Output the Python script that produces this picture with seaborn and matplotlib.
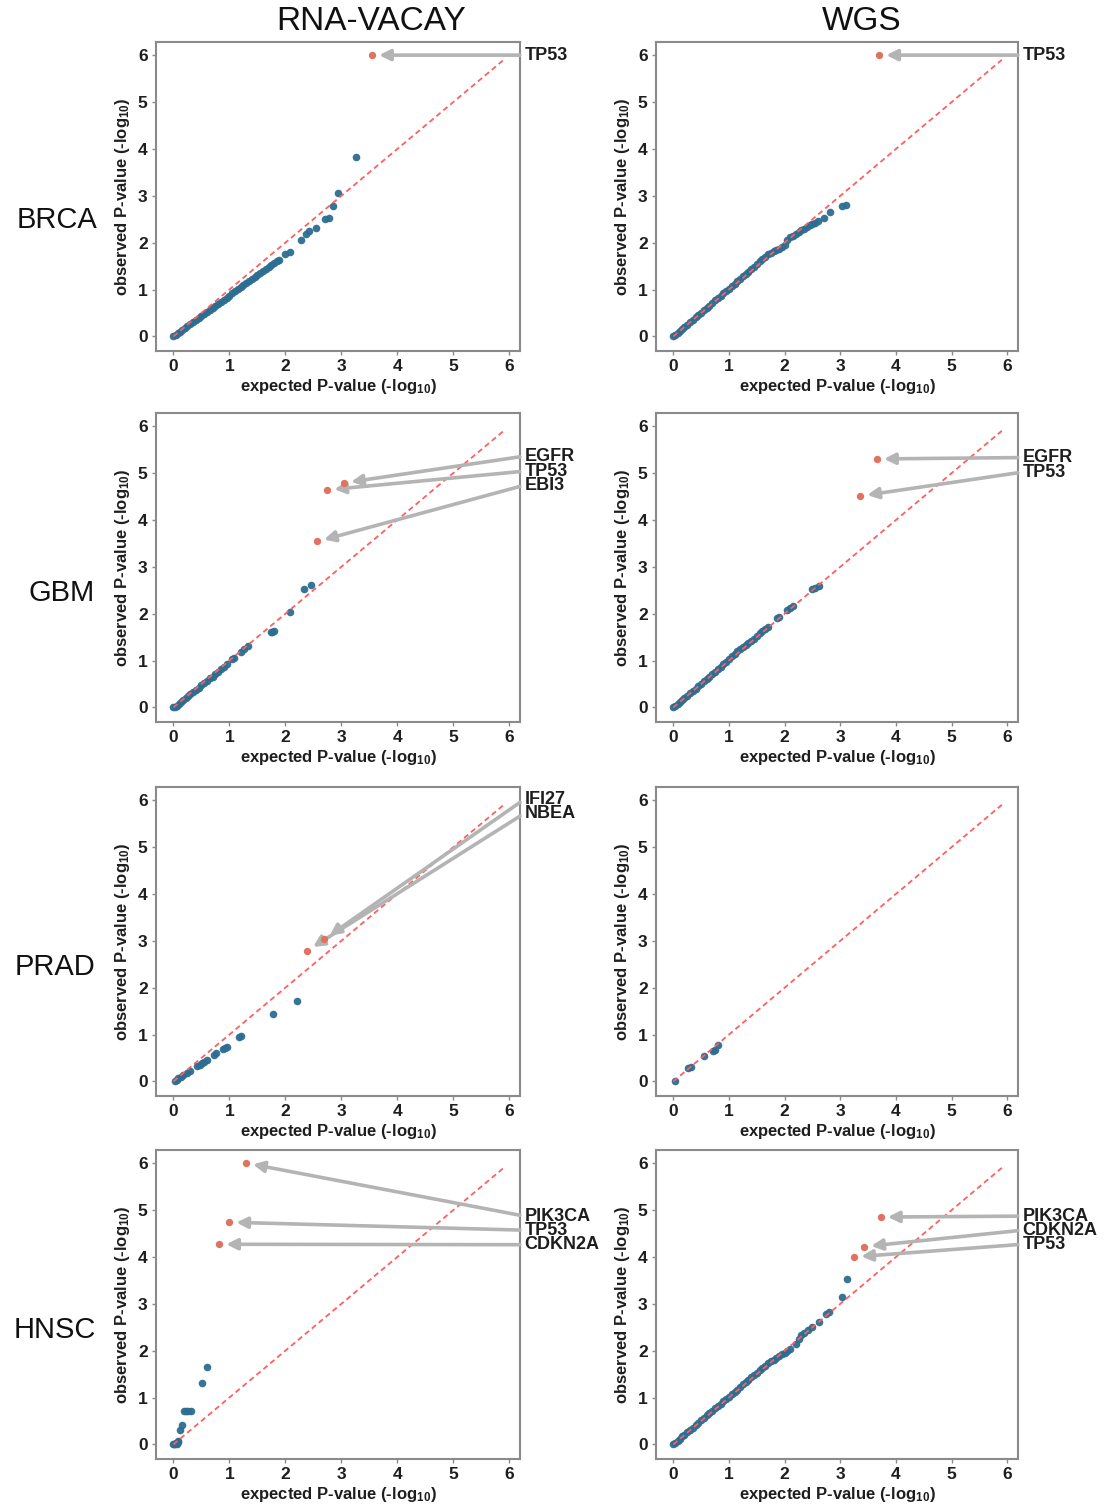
import numpy as np
import pandas as pd
import matplotlib
matplotlib.use("Agg")
import matplotlib.pyplot as plt
import seaborn as sns

# ---------------- data ----------------
COLUMNS = ["RNA-VACAY", "WGS"]
ROWS = ["BRCA", "GBM", "PRAD", "HNSC"]

# BRCA / RNA-VACAY
BRCA_RNA_EXP = [0.00, 0.04, 0.08, 0.12, 0.16, 0.20, 0.25, 0.30, 0.35, 0.40, 0.45, 0.50, 0.55, 0.60, 0.65,
                0.70, 0.75, 0.80, 0.85, 0.90, 0.95, 1.00, 1.05, 1.10, 1.15, 1.20, 1.25, 1.30, 1.35, 1.40,
                1.45, 1.50, 1.55, 1.60, 1.65, 1.70, 1.75, 1.80, 1.85, 1.88,
                1.99, 2.08, 2.28, 2.37, 2.42, 2.55, 2.70, 2.78, 2.85, 2.94, 3.26]
BRCA_RNA_OBS = [0.00, 0.03, 0.07, 0.10, 0.14, 0.17, 0.22, 0.26, 0.31, 0.35, 0.39, 0.44, 0.48, 0.52, 0.57,
                0.61, 0.65, 0.70, 0.74, 0.78, 0.83, 0.87, 0.92, 0.96, 1.01, 1.05, 1.09, 1.13, 1.18, 1.22,
                1.27, 1.31, 1.35, 1.40, 1.44, 1.48, 1.53, 1.57, 1.61, 1.64,
                1.76, 1.81, 2.06, 2.18, 2.24, 2.32, 2.51, 2.52, 2.78, 3.07, 3.82]
BRCA_RNA_GENES = ["TP53"]
BRCA_RNA_GENE_EXP = [3.55]
BRCA_RNA_GENE_OBS = [6.00]

# BRCA / WGS
BRCA_WGS_EXP = [0.00, 0.04, 0.08, 0.12, 0.16, 0.20, 0.25, 0.30, 0.35, 0.40, 0.45, 0.50, 0.55, 0.60, 0.65,
                0.70, 0.75, 0.80, 0.85, 0.90, 0.95, 1.00, 1.05, 1.10, 1.15, 1.20, 1.25, 1.30, 1.35, 1.40,
                1.45, 1.50, 1.55, 1.60, 1.65, 1.70, 1.75, 1.80, 1.85, 1.90, 1.95, 2.00, 2.05, 2.10, 2.15,
                2.20, 2.25, 2.30, 2.35, 2.40, 2.45, 2.50, 2.55, 2.60,
                2.70, 2.81, 3.03, 3.10]
BRCA_WGS_OBS = [0.00, 0.04, 0.08, 0.12, 0.16, 0.20, 0.25, 0.30, 0.35, 0.41, 0.46, 0.51, 0.56, 0.61, 0.66,
                0.71, 0.77, 0.82, 0.87, 0.92, 0.97, 1.02, 1.07, 1.12, 1.18, 1.23, 1.28, 1.33, 1.38, 1.44,
                1.49, 1.55, 1.60, 1.65, 1.70, 1.75, 1.79, 1.83, 1.85, 1.87, 1.91, 1.95, 2.05, 2.12, 2.15,
                2.18, 2.22, 2.26, 2.30, 2.34, 2.37, 2.40, 2.43, 2.46,
                2.53, 2.66, 2.79, 2.80]
BRCA_WGS_GENES = ["TP53"]
BRCA_WGS_GENE_EXP = [3.70]
BRCA_WGS_GENE_OBS = [6.00]

# GBM / RNA-VACAY
GBM_RNA_EXP = [0.00, 0.03, 0.06, 0.10, 0.14, 0.18, 0.22, 0.26, 0.30, 0.35, 0.40, 0.45, 0.50, 0.55, 0.60,
               0.65, 0.70, 0.75, 0.80, 0.85, 0.90,
               0.96, 1.05, 1.09, 1.21, 1.26, 1.33, 1.74, 1.77, 1.80, 2.09, 2.34, 2.45]
GBM_RNA_OBS = [0.00, 0.02, 0.04, 0.08, 0.12, 0.16, 0.20, 0.24, 0.28, 0.33, 0.38, 0.42, 0.47, 0.52, 0.57,
               0.62, 0.66, 0.71, 0.76, 0.81, 0.86,
               0.92, 1.03, 1.06, 1.18, 1.24, 1.31, 1.62, 1.62, 1.63, 2.04, 2.52, 2.62]
GBM_RNA_GENES = ["EGFR", "TP53", "EBI3"]
GBM_RNA_GENE_EXP = [3.05, 2.75, 2.57]
GBM_RNA_GENE_OBS = [4.79, 4.64, 3.54]

# GBM / WGS
GBM_WGS_EXP = [0.00, 0.04, 0.08, 0.12, 0.16, 0.20, 0.25, 0.30, 0.35, 0.40, 0.45, 0.50, 0.55, 0.60, 0.65,
               0.70, 0.75, 0.80, 0.85, 0.90, 0.95, 1.00, 1.05, 1.10, 1.15, 1.20, 1.25, 1.30, 1.35, 1.40,
               1.45, 1.50, 1.55, 1.60, 1.65, 1.70,
               1.86, 1.90, 2.04, 2.10, 2.15, 2.49, 2.55, 2.61]
GBM_WGS_OBS = [0.00, 0.04, 0.08, 0.12, 0.16, 0.20, 0.25, 0.30, 0.35, 0.40, 0.45, 0.51, 0.56, 0.61, 0.66,
               0.71, 0.76, 0.81, 0.87, 0.92, 0.97, 1.03, 1.09, 1.15, 1.20, 1.25, 1.29, 1.33, 1.38, 1.42,
               1.47, 1.53, 1.58, 1.63, 1.68, 1.72,
               1.91, 1.93, 2.07, 2.12, 2.16, 2.52, 2.55, 2.58]
GBM_WGS_GENES = ["EGFR", "TP53"]
GBM_WGS_GENE_EXP = [3.66, 3.36]
GBM_WGS_GENE_OBS = [5.30, 4.51]

# PRAD / RNA-VACAY
PRAD_RNA_EXP = [0.03, 0.06, 0.09, 0.13, 0.18, 0.24, 0.30, 0.42, 0.47, 0.51, 0.55, 0.60, 0.73, 0.77, 0.88,
                0.92, 0.96, 1.17, 1.20, 1.78, 2.21]
PRAD_RNA_OBS = [0.01, 0.04, 0.08, 0.10, 0.13, 0.18, 0.22, 0.34, 0.36, 0.39, 0.42, 0.46, 0.57, 0.60, 0.70,
                0.72, 0.74, 0.94, 0.96, 1.44, 1.72]
PRAD_RNA_GENES = ["IFI27", "NBEA"]
PRAD_RNA_GENE_EXP = [2.69, 2.39]
PRAD_RNA_GENE_OBS = [3.03, 2.79]

# PRAD / WGS
PRAD_WGS_EXP = [0.04, 0.26, 0.31, 0.55, 0.71, 0.75, 0.81]
PRAD_WGS_OBS = [0.02, 0.29, 0.31, 0.54, 0.66, 0.68, 0.77]
PRAD_WGS_GENES = []
PRAD_WGS_GENE_EXP = []
PRAD_WGS_GENE_OBS = []

# HNSC / RNA-VACAY
HNSC_RNA_EXP = [0.00, 0.02, 0.03, 0.05, 0.06, 0.08, 0.09, 0.12, 0.15, 0.19, 0.23, 0.27, 0.31, 0.51, 0.60]
HNSC_RNA_OBS = [0.00, 0.00, 0.01, 0.03, 0.02, 0.07, 0.05, 0.31, 0.42, 0.71, 0.71, 0.71, 0.71, 1.32, 1.66]
HNSC_RNA_GENES = ["PIK3CA", "TP53", "CDKN2A"]
HNSC_RNA_GENE_EXP = [1.30, 1.00, 0.82]
HNSC_RNA_GENE_OBS = [6.00, 4.74, 4.27]

# HNSC / WGS
HNSC_WGS_EXP = [0.00, 0.04, 0.08, 0.12, 0.16, 0.20, 0.25, 0.30, 0.35, 0.40, 0.45, 0.50, 0.55, 0.60, 0.65,
                0.70, 0.75, 0.80, 0.85, 0.90, 0.95, 1.00, 1.05, 1.10, 1.15, 1.20, 1.25, 1.30, 1.35, 1.40,
                1.45, 1.50, 1.55, 1.60, 1.65, 1.70, 1.75, 1.80, 1.85, 1.90, 1.95, 2.00, 2.05, 2.10,
                2.20, 2.25, 2.30, 2.35, 2.42, 2.50, 2.62, 2.75, 2.80, 3.03, 3.12]
HNSC_WGS_OBS = [0.00, 0.04, 0.08, 0.12, 0.17, 0.21, 0.26, 0.31, 0.36, 0.41, 0.46, 0.52, 0.57, 0.62, 0.67,
                0.72, 0.77, 0.82, 0.87, 0.92, 0.97, 1.02, 1.07, 1.12, 1.17, 1.23, 1.28, 1.33, 1.38, 1.43,
                1.48, 1.53, 1.58, 1.63, 1.68, 1.73, 1.77, 1.80, 1.84, 1.88, 1.93, 1.96, 1.99, 2.04,
                2.15, 2.25, 2.33, 2.38, 2.44, 2.50, 2.62, 2.78, 2.82, 3.14, 3.52]
HNSC_WGS_GENES = ["PIK3CA", "CDKN2A", "TP53"]
HNSC_WGS_GENE_EXP = [3.73, 3.43, 3.25]
HNSC_WGS_GENE_OBS = [4.85, 4.22, 4.00]

DIAG = [0.0, 5.9]
TICKS = [0, 1, 2, 3, 4, 5, 6]

PANELS = {
    ("BRCA", "RNA-VACAY"): (BRCA_RNA_EXP, BRCA_RNA_OBS, BRCA_RNA_GENES, BRCA_RNA_GENE_EXP, BRCA_RNA_GENE_OBS),
    ("BRCA", "WGS"): (BRCA_WGS_EXP, BRCA_WGS_OBS, BRCA_WGS_GENES, BRCA_WGS_GENE_EXP, BRCA_WGS_GENE_OBS),
    ("GBM", "RNA-VACAY"): (GBM_RNA_EXP, GBM_RNA_OBS, GBM_RNA_GENES, GBM_RNA_GENE_EXP, GBM_RNA_GENE_OBS),
    ("GBM", "WGS"): (GBM_WGS_EXP, GBM_WGS_OBS, GBM_WGS_GENES, GBM_WGS_GENE_EXP, GBM_WGS_GENE_OBS),
    ("PRAD", "RNA-VACAY"): (PRAD_RNA_EXP, PRAD_RNA_OBS, PRAD_RNA_GENES, PRAD_RNA_GENE_EXP, PRAD_RNA_GENE_OBS),
    ("PRAD", "WGS"): (PRAD_WGS_EXP, PRAD_WGS_OBS, PRAD_WGS_GENES, PRAD_WGS_GENE_EXP, PRAD_WGS_GENE_OBS),
    ("HNSC", "RNA-VACAY"): (HNSC_RNA_EXP, HNSC_RNA_OBS, HNSC_RNA_GENES, HNSC_RNA_GENE_EXP, HNSC_RNA_GENE_OBS),
    ("HNSC", "WGS"): (HNSC_WGS_EXP, HNSC_WGS_OBS, HNSC_WGS_GENES, HNSC_WGS_GENE_EXP, HNSC_WGS_GENE_OBS),
}

# ---------------- layout (label placement in data units of each panel) ----------------
LABEL_Y = {
    ("BRCA", "RNA-VACAY"): [6.00],
    ("BRCA", "WGS"): [6.00],
    ("GBM", "RNA-VACAY"): [5.36, 5.04, 4.74],
    ("GBM", "WGS"): [5.33, 5.02],
    ("PRAD", "RNA-VACAY"): [6.02, 5.72],
    ("PRAD", "WGS"): [],
    ("HNSC", "RNA-VACAY"): [4.87, 4.57, 4.26],
    ("HNSC", "WGS"): [4.87, 4.57, 4.27],
}

W, H = 1108, 1510
ROW_TOP = [42, 413, 787, 1150]
ROW_H = 309
COL_LEFT = [156, 656]
COL_W = [364, 362]
ROW_LABEL_POS = [(57, 220), (62, 593), (55, 967), (55, 1330)]
COL_TITLE_X = [371, 862]

BLUE = "#2c6d91"
RED_PT = "#e0735f"
DIAG_C = "#ff5f5f"
ARROW_C = "#b4b4b4"
TEXT_C = "#1e1e1e"
SPINE_C = "#8a8a8a"

sns.set_style("white")
plt.rcParams["font.family"] = ["Liberation Sans", "DejaVu Sans"]
plt.rcParams["mathtext.default"] = "regular"

fig = plt.figure(figsize=(W / 100, H / 100), dpi=100)

for ri, row in enumerate(ROWS):
    for ci, col in enumerate(COLUMNS):
        left = COL_LEFT[ci] / W
        bottom = 1 - (ROW_TOP[ri] + ROW_H) / H
        ax = fig.add_axes([left, bottom, COL_W[ci] / W, ROW_H / H])
        exp, obs, genes, gexp, gobs = PANELS[(row, col)]
        df = pd.DataFrame({"expected": exp, "observed": obs})
        sns.lineplot(x=DIAG, y=DIAG, ax=ax, color=DIAG_C, lw=1.3,
                     linestyle=(0, (3.0, 2.0)), zorder=3)
        sns.scatterplot(data=df, x="expected", y="observed", ax=ax, color=BLUE,
                        s=30, linewidth=0, alpha=0.95, zorder=2)
        if genes:
            gdf = pd.DataFrame({"expected": gexp, "observed": gobs, "gene": genes})
            sns.scatterplot(data=gdf, x="expected", y="observed", ax=ax, color=RED_PT,
                            s=28, linewidth=0, zorder=7)
            for g, gx, gy, ly in zip(genes, gexp, gobs, LABEL_Y[(row, col)]):
                ax.annotate(g, xy=(gx, gy), xytext=(6.27, ly), textcoords="data",
                            ha="left", va="center", fontsize=13, fontweight="bold",
                            color=TEXT_C, annotation_clip=False,
                            arrowprops=dict(arrowstyle="-|>,head_length=0.5,head_width=0.25",
                                            color=ARROW_C, lw=2.6, shrinkA=1, shrinkB=5,
                                            relpos=(0, 0.5)),
                            zorder=5)
        ax.set_xlim(-0.31, 6.19)
        ax.set_ylim(-0.31, 6.28)
        ax.set_xticks(TICKS)
        ax.set_yticks(TICKS)
        ax.set_xticklabels([str(t) for t in TICKS])
        ax.set_yticklabels([str(t) for t in TICKS])
        ax.tick_params(axis="both", length=3, width=1, color=SPINE_C, labelsize=12.5,
                       labelcolor=TEXT_C, pad=3, left=True, bottom=True)
        for lab in ax.get_xticklabels() + ax.get_yticklabels():
            lab.set_fontweight("bold")
        ax.set_xlabel("expected P-value (-log$_{10}$)", fontsize=12, fontweight="bold",
                      color=TEXT_C, labelpad=2)
        ax.set_ylabel("observed P-value (-log$_{10}$)", fontsize=12, fontweight="bold",
                      color=TEXT_C, labelpad=4)
        for sp in ax.spines.values():
            sp.set_visible(True)
            sp.set_color(SPINE_C)
            sp.set_linewidth(1.5)

for ci, col in enumerate(COLUMNS):
    fig.text(COL_TITLE_X[ci] / W, 1 - 21 / H, col, ha="center", va="center", fontsize=24,
             family=["Liberation Sans Narrow", "Liberation Sans", "DejaVu Sans"], color="#111111")

for ri, row in enumerate(ROWS):
    x, y = ROW_LABEL_POS[ri]
    fig.text(x / W, 1 - y / H, row, ha="center", va="center", fontsize=21, color="#111111")

fig.savefig("out.png", dpi=100, facecolor="white")
